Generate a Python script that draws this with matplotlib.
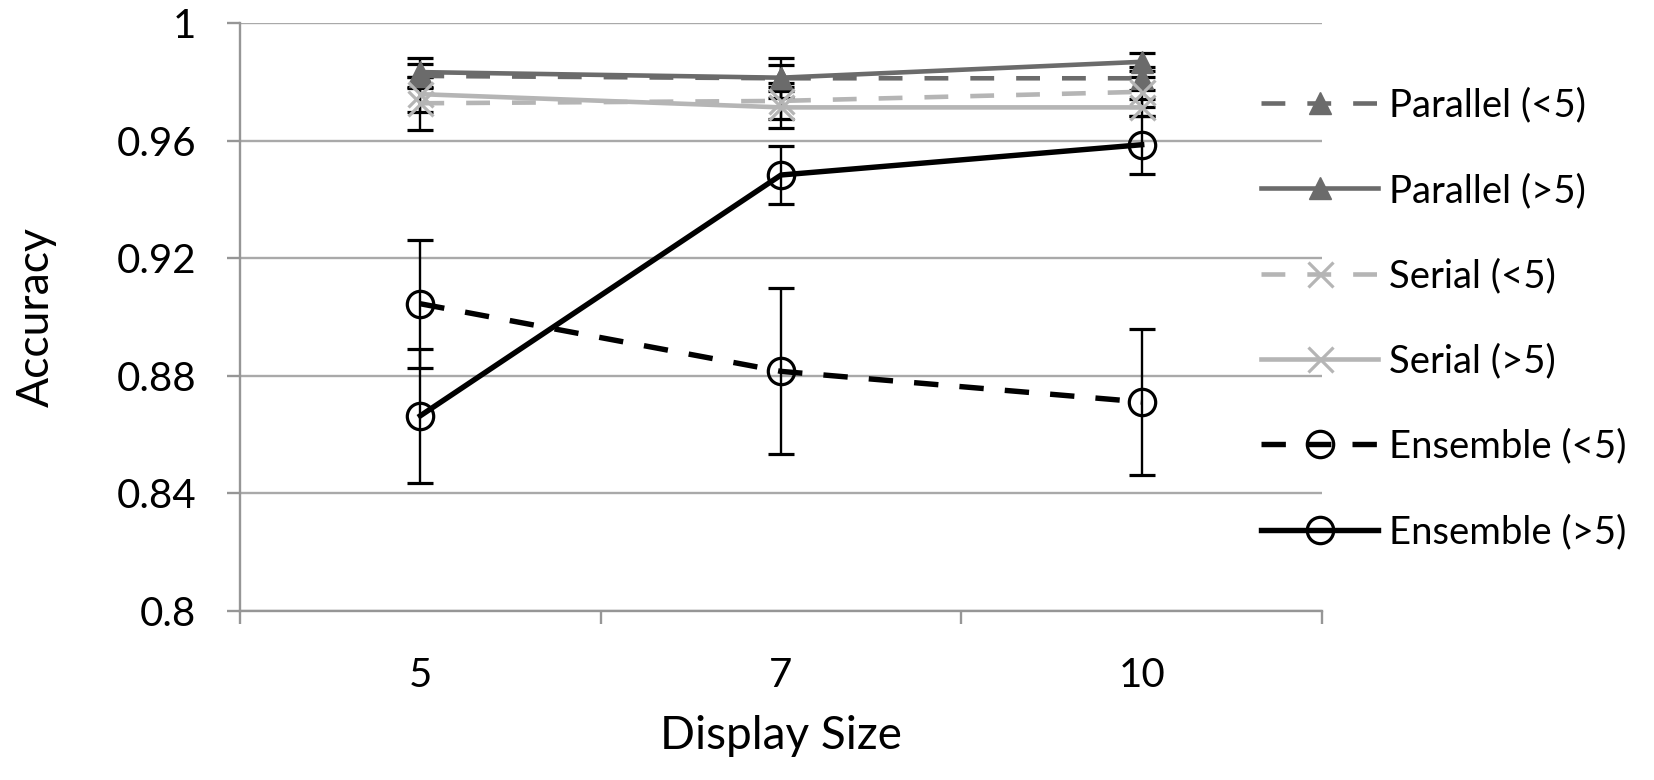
import matplotlib.pyplot as plt
import numpy as np

plt.rcParams['font.family'] = ['Lato', 'DejaVu Sans']

display_size = ['5', '7', '10']
series_names = ['Parallel (<5)', 'Parallel (>5)', 'Serial (<5)', 'Serial (>5)',
                'Ensemble (<5)', 'Ensemble (>5)']

parallel_lt5 = [0.982, 0.9812, 0.9812]
parallel_gt5 = [0.9833, 0.9814, 0.9868]
serial_lt5 = [0.9727, 0.9735, 0.9766]
serial_gt5 = [0.9758, 0.9713, 0.9713]
ensemble_lt5 = [0.9045, 0.8815, 0.8711]
ensemble_gt5 = [0.8664, 0.9483, 0.9586]

parallel_lt5_err = [0.004, 0.0044, 0.004]
parallel_gt5_err = [0.0049, 0.0068, 0.0031]
serial_lt5_err = [0.009, 0.006, 0.005]
serial_gt5_err = [0.006, 0.0071, 0.003]
ensemble_lt5_err = [0.0218, 0.0282, 0.0247]
ensemble_gt5_err = [0.0228, 0.0099, 0.0099]

dark = '#6b6b6b'
light = '#b5b5b5'

styles = [
    dict(color=dark, dashes=(5.2, 4.8), marker='^', ms=16, mfc=dark, mec=dark, lw=3.3),
    dict(color=dark, ls='-', marker='^', ms=16, mfc=dark, mec=dark, lw=3.3),
    dict(color=light, dashes=(5.2, 4.8), marker='x', ms=18, mec=light, mew=2.3, lw=3.3),
    dict(color=light, ls='-', marker='x', ms=18, mec=light, mew=2.3, lw=3.3),
    dict(color='black', dashes=(4.5, 3.9), marker='o', ms=19, mfc='none', mec='black', mew=2.3, lw=3.9),
    dict(color='black', ls='-', marker='o', ms=19, mfc='none', mec='black', mew=2.3, lw=3.9),
]
values = [parallel_lt5, parallel_gt5, serial_lt5, serial_gt5, ensemble_lt5, ensemble_gt5]
errors = [parallel_lt5_err, parallel_gt5_err, serial_lt5_err, serial_gt5_err,
          ensemble_lt5_err, ensemble_gt5_err]

fig = plt.figure(figsize=(16.54, 7.8), dpi=100)
ax = fig.add_axes([0.1451, 0.2167, 0.6542, 0.7538])
x = np.arange(len(display_size))

handles = []
for name, vals, errs, st in zip(series_names, values, errors, styles):
    ax.errorbar(x, vals, yerr=errs, fmt='none', ecolor='black', elinewidth=1.7,
                capsize=9.7, capthick=2.3, zorder=2)
    h, = ax.plot(x, vals, label=name, zorder=3, **st)
    handles.append(h)

ax.set_xlim(-0.5, 2.5)
ax.set_ylim(0.8, 1.0)
ax.set_yticks([0.8, 0.84, 0.88, 0.92, 0.96, 1.0])
ax.set_yticklabels(['0.8', '0.84', '0.88', '0.92', '0.96', '1'])
ax.yaxis.grid(True, color='#a9a9a9', lw=1.7)
ax.set_axisbelow(True)

ax.set_xticks([-0.5, 0.5, 1.5, 2.5])
ax.set_xticklabels([])
ax.set_xticks(x, minor=True)
ax.set_xticklabels(display_size, minor=True)
ax.tick_params(axis='x', which='major', length=9.4, width=1.7, color='#969696')
ax.tick_params(axis='x', which='minor', length=0, pad=33, labelsize=29)
ax.tick_params(axis='y', length=9.4, width=1.7, color='#969696', pad=22, labelsize=29)

for s in ['top', 'right']:
    ax.spines[s].set_visible(False)
for s in ['left', 'bottom']:
    ax.spines[s].set_color('#969696')
    ax.spines[s].set_linewidth(1.7)

ax.set_xlabel('Display Size', fontsize=33, va='center')
ax.xaxis.set_label_coords(0.5, -0.212)
ax.set_ylabel('Accuracy', fontsize=32, va='center')
ax.yaxis.set_label_coords(-0.1885, 0.5)

ax.legend(handles=handles, loc='center left', bbox_to_anchor=(0.944, 0.497),
          frameon=False, fontsize=27.5, numpoints=1, handlelength=3.06,
          handletextpad=0.27, labelspacing=1.29, borderaxespad=0, borderpad=0)

fig.savefig('out.png', dpi=100)
